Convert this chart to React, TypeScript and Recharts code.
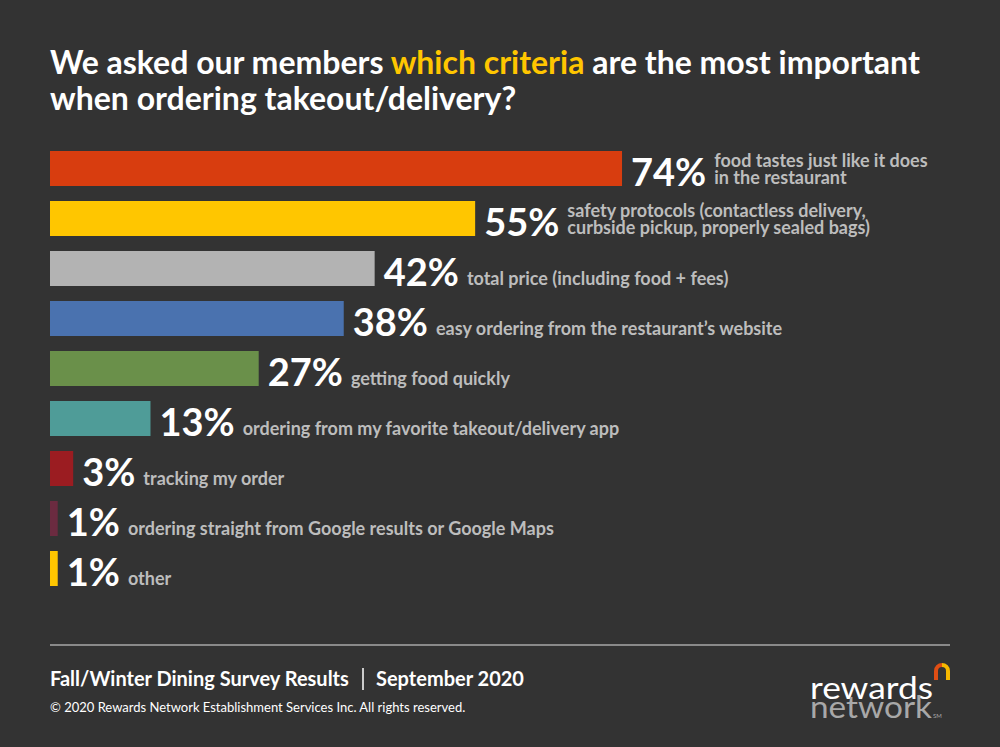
import React from "react";
import { BarChart, Bar, XAxis, YAxis, Cell, LabelList } from "recharts";

const criteria = [
  "food tastes just like it does\nin the restaurant",
  "safety protocols (contactless delivery,\ncurbside pickup, properly sealed bags)",
  "total price (including food + fees)",
  "easy ordering from the restaurant’s website",
  "getting food quickly",
  "ordering from my favorite takeout/delivery app",
  "tracking my order",
  "ordering straight from Google results or Google Maps",
  "other",
];
const shares = [74, 55, 42, 38, 27, 13, 3, 1, 1];
const barColors = [
  "#d83d0f",
  "#ffc600",
  "#b3b3b3",
  "#4a72af",
  "#6a904a",
  "#4f9c98",
  "#9b1c21",
  "#6b2b40",
  "#ffc600",
];

const rows = criteria.map((c, i) => ({ criterion: c, share: shares[i] }));

const FONT = "Lato, 'Open Sans', sans-serif";
const PCT_SIZE = 38;
const DESC_SIZE = 18;

let ctx: CanvasRenderingContext2D | null = null;
function textWidth(text: string, font: string) {
  if (!ctx) ctx = document.createElement("canvas").getContext("2d");
  if (!ctx) return text.length * 10;
  ctx.font = font;
  return ctx.measureText(text).width;
}

function RowLabel(props: any) {
  const { x, y, width, height, index } = props;
  const end = Number(x) + Number(width);
  const bottom = Number(y) + Number(height);
  const pct = `${shares[index]}%`;
  const pctX = end + 9;
  const pctW = textWidth(pct, `bold ${PCT_SIZE}px ${FONT}`);
  const descX = pctX + pctW + 8;
  const lines = criteria[index].split("\n");
  return (
    <g>
      <text
        x={pctX}
        y={bottom - 0.5}
        fill="#ffffff"
        fontFamily={FONT}
        fontWeight="bold"
        fontSize={PCT_SIZE}
      >
        {pct}
      </text>
      {lines.map((ln, k) => (
        <text
          key={k}
          x={descX}
          y={bottom - (lines.length > 1 ? 2 : 1) - (lines.length - 1 - k) * 17}
          fill="#bdbdbd"
          fontFamily={FONT}
          fontWeight="bold"
          fontSize={DESC_SIZE}
        >
          {ln}
        </text>
      ))}
    </g>
  );
}

export default function App() {
  return (
    <div
      style={{
        position: "absolute",
        left: 0,
        top: 0,
        width: 1000,
        height: 747,
        background: "#333333",
        overflow: "hidden",
      }}
    >
      <svg
        width={1000}
        height={747}
        style={{ position: "absolute", left: 0, top: 0 }}
        fontFamily={FONT}
      >
        <text x={50} y={74} fill="#ffffff" fontWeight="bold" fontSize={32}>
          We asked our members{" "}
          <tspan fill="#ffc600">which criteria</tspan> are the most important
        </text>
        <text x={50} y={110} fill="#ffffff" fontWeight="bold" fontSize={32}>
          when ordering takeout/delivery?
        </text>

        <line x1={50} x2={950} y1={645} y2={645} stroke="#8a8a8a" strokeWidth={2} />
        <text x={50} y={686} fill="#ffffff" fontWeight="bold" fontSize={20}>
          Fall/Winter Dining Survey Results
        </text>
        <line x1={363} x2={363} y1={668} y2={690} stroke="#ffffff" strokeWidth={1.5} />
        <text x={376} y={686} fill="#ffffff" fontWeight="bold" fontSize={20}>
          September 2020
        </text>
        <text x={50} y={712} fill="#ffffff" fontSize={13}>
          © 2020 Rewards Network Establishment Services Inc. All rights reserved.
        </text>

        <text x={810} y={699} fill="#ffffff" fontSize={30} textLength={123} lengthAdjust="spacingAndGlyphs">
          rewards
        </text>
        <text x={810} y={718} fill="#a8a8a8" fontSize={30} textLength={122} lengthAdjust="spacingAndGlyphs">
          network
        </text>
        <text x={933} y={718} fill="#a8a8a8" fontSize={6}>
          SM
        </text>
        <path d="M936 680 V671 A6 6 0 0 1 942 665" stroke="#e04e14" strokeWidth={4} fill="none" />
        <path d="M942 665 A6 6 0 0 1 948 671 V680" stroke="#f6b800" strokeWidth={4} fill="none" />
      </svg>

      <div style={{ position: "absolute", left: 50, top: 143 }}>
        <BarChart
          width={900}
          height={450}
          data={rows}
          layout="vertical"
          margin={{ top: 0, right: 127, bottom: 0, left: 0 }}
          barCategoryGap={15}
        >
          <XAxis type="number" domain={[0, 100]} hide />
          <YAxis type="category" dataKey="criterion" hide />
          <Bar dataKey="share" barSize={35} isAnimationActive={false}>
            {rows.map((r, i) => (
              <Cell key={r.criterion} fill={barColors[i]} />
            ))}
            <LabelList dataKey="share" content={RowLabel} />
          </Bar>
        </BarChart>
      </div>
    </div>
  );
}
